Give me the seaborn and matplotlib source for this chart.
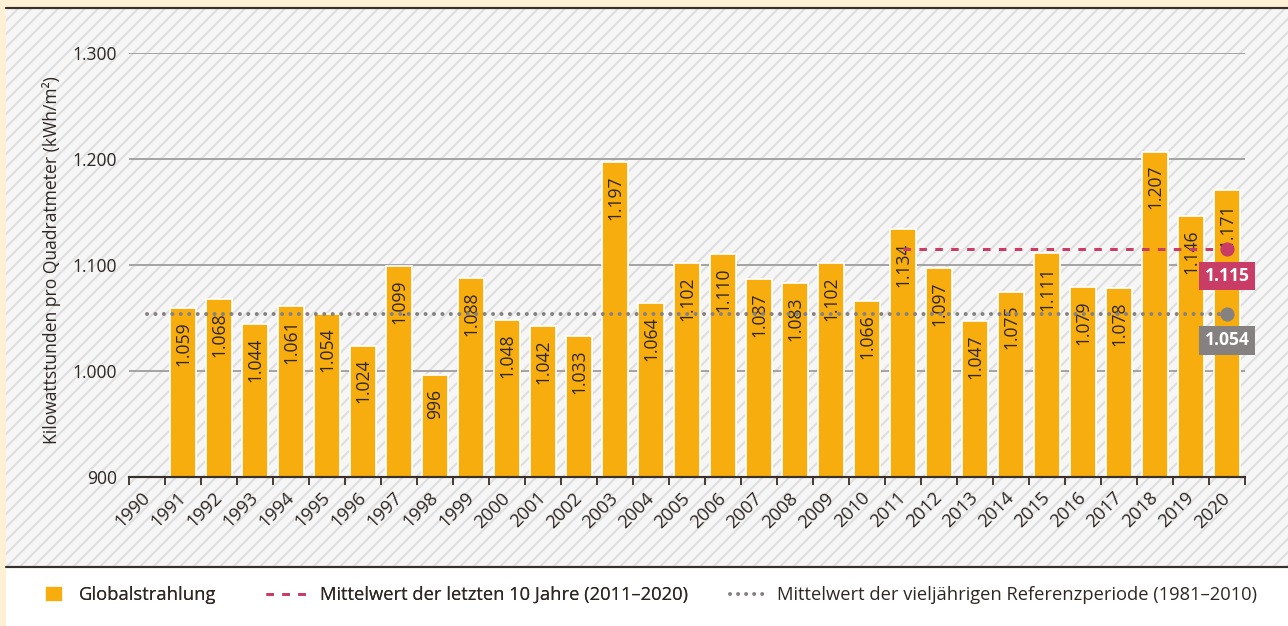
import numpy as np
import matplotlib.pyplot as plt
import seaborn as sns
from matplotlib.patches import Rectangle, Patch
from matplotlib.lines import Line2D

# data
years = [str(y) for y in range(1990, 2021)]
bar_years = [str(y) for y in range(1991, 2021)]
radiation = [1059, 1068, 1044, 1061, 1054, 1024, 1099, 996, 1088, 1048,
             1042, 1033, 1197, 1064, 1102, 1110, 1087, 1083, 1102, 1066,
             1134, 1097, 1047, 1075, 1111, 1079, 1078, 1207, 1146, 1171]
mean_10y = 1115
mean_10y_span = ["2011", "2020"]
mean_ref = 1054
mean_ref_span = ["1990", "2020"]
y_ticks = [900, 1000, 1100, 1200, 1300]
legend_labels = ["Globalstrahlung",
                 "Mittelwert der letzten 10 Jahre (2011–2020)",
                 "Mittelwert der vieljährigen Referenzperiode (1981–2010)"]

bar_color = "#F8AD0E"
red = "#C83C65"
gray = "#858180"
text_color = "#2F2723"
dark = "#3A302B"


def de_num(v):
    # german thousands separator
    return f"{v:,}".replace(",", ".")


sns.set_theme(style="white")
plt.rcParams['font.family'] = ['Open Sans', 'DejaVu Sans']
plt.rcParams['hatch.linewidth'] = 1.3
plt.rcParams['text.color'] = text_color
fs = 10.5

W, H = 1288, 626
fig = plt.figure(figsize=(W / 120, H / 120), dpi=120)
fig.patch.set_facecolor("#FDF0D4")

# hatched panel + white legend strip
bg = fig.add_axes([6 / W, (H - 567) / H, 1 - 6 / W, (567 - 8) / H])
bg.axis("off")
bg.add_patch(Rectangle((0, 0), 1, 1, transform=bg.transAxes, facecolor="#F6F6F6",
                       edgecolor="#DFDFDF", hatch="///", lw=0))
fig.add_artist(Rectangle((6 / W, 0), 1 - 6 / W, (H - 567) / H, transform=fig.transFigure,
                         facecolor="white", edgecolor="none"))
fig.add_artist(Line2D([6 / W, 1], [1 - 8 / H] * 2, color=dark, lw=1.3))
fig.add_artist(Line2D([6 / W, 1], [1 - 567 / H] * 2, color=dark, lw=1.3))

ax = fig.add_axes([129 / W, (H - 477) / H, (1245 - 129) / W, (477 - 53) / H])
ax.set_facecolor("none")
sns.barplot(x=bar_years, y=radiation, order=years, color=bar_color, saturation=1,
            width=0.7, errorbar=None, ax=ax, zorder=2)
ax.set_xlim(-0.5, 30.5)
ax.set_ylim(900, 1300)
ax.set_xlabel("")
ax.set_ylabel("")

for s in ["left", "right", "top"]:
    ax.spines[s].set_visible(False)
ax.spines["bottom"].set_color(dark)
ax.spines["bottom"].set_linewidth(1.3)
ax.spines["bottom"].set_zorder(5)

ax.set_yticks(y_ticks, labels=[de_num(v) for v in y_ticks])
ax.yaxis.grid(True, color="#9E9E9E", lw=1.1)
ax.set_axisbelow(True)
ax.tick_params(axis="y", length=0, pad=7, labelsize=fs, labelcolor=text_color)

ax.set_xticks(range(len(years)), labels=years)
ax.set_xticks(np.arange(-0.5, len(years), 1), minor=True)
ax.tick_params(axis="x", which="major", length=0, pad=11, labelsize=11, labelcolor=text_color)
ax.tick_params(axis="x", which="minor", bottom=True, length=4.5, width=1.1, color=dark)
for lab in ax.get_xticklabels():
    lab.set_rotation(45)
    lab.set_ha("right")
    lab.set_va("center")
    lab.set_rotation_mode("anchor")

# values inside bars
for y, v in zip(bar_years, radiation):
    ax.annotate(de_num(v), (years.index(y), v), xytext=(0, -8), textcoords="offset points",
                rotation=90, ha="center", va="top", fontsize=fs, color=text_color, zorder=3)

# mean lines
x10 = [years.index(y) for y in mean_10y_span]
ax.plot(x10, [mean_10y] * 2, color=red, lw=1.8, ls=(0, (2.5, 2.8)), zorder=3)
ax.plot(x10[-1], mean_10y, "o", color=red, ms=7.5, zorder=4)
xr = [years.index(y) for y in mean_ref_span]
ax.plot(xr, [mean_ref] * 2, color=gray, lw=2.4, ls=(0, (0.01, 2.1)),
        dash_capstyle="round", zorder=3)
ax.plot(xr[-1], mean_ref, "o", color=gray, ms=7.5, zorder=4)

ax.annotate(de_num(mean_10y), (x10[-1], mean_10y), xytext=(0, -16), textcoords="offset points",
            ha="center", va="center", color="white", fontweight="bold", fontsize=fs,
            bbox=dict(boxstyle="square,pad=0.3", fc=red, ec="none"), zorder=6)
ax.annotate(de_num(mean_ref), (xr[-1], mean_ref), xytext=(0, -16), textcoords="offset points",
            ha="center", va="center", color="white", fontweight="bold", fontsize=fs,
            bbox=dict(boxstyle="square,pad=0.3", fc=gray, ec="none"), zorder=6)

fig.text(52 / W, 1 - 260 / H, "Kilowattstunden pro Quadratmeter (kWh/m²)", rotation=90,
         ha="center", va="center", fontsize=fs, color=text_color)

# legend, one entry each so the spacing can follow the original
ly = (H - 595) / H
lfs = 11
leg_kw = dict(loc="center left", frameon=False, borderpad=0, borderaxespad=0, fontsize=lfs)
l1 = fig.legend([Patch(facecolor=bar_color)], [legend_labels[0]], bbox_to_anchor=(45 / W, ly),
                handlelength=0.98, handleheight=0.98, handletextpad=0.87, **leg_kw)
l2 = fig.legend([Line2D([], [], color=red, lw=1.8, ls=(0, (2.5, 2.8)))], [legend_labels[1]],
                bbox_to_anchor=(266 / W, ly), handlelength=2.18, handletextpad=0.76, **leg_kw)
l3 = fig.legend([Line2D([], [], color=gray, lw=2.4, ls=(0, (0.01, 2.0)), dash_capstyle="round")],
                [legend_labels[2]], bbox_to_anchor=(730 / W, ly), handlelength=1.97,
                handletextpad=0.6, **leg_kw)
fig.add_artist(l1)
fig.add_artist(l2)

fig.savefig("out.png", dpi=120, facecolor=fig.get_facecolor())
